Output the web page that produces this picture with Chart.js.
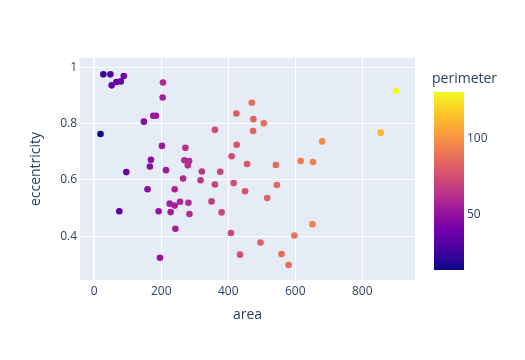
<!DOCTYPE html>
<html>
<head>
<meta charset="utf-8">
<script src="https://cdn.jsdelivr.net/npm/chart.js@4/dist/chart.umd.min.js"></script>
<style>
  html, body { margin: 0; padding: 0; background: #fff; }
  canvas { display: block; }
</style>
</head>
<body>
<canvas id="c" width="525" height="360"></canvas>
<script>
// ---- data ----
const area = [27, 48, 88, 52, 66, 79, 205, 204, 148, 176, 184, 18.5, 360, 424, 470, 475, 506, 474, 425, 410, 456, 542, 616, 653, 680, 855, 901, 202, 272, 169, 166, 269, 283, 279, 95.5, 214, 321, 376, 265, 317, 360, 416, 450, 545, 516, 159, 240, 74.6, 192, 225, 240, 256, 281, 228, 284, 350, 380, 242, 408, 196, 496, 435, 559, 580, 597, 651];
const eccentricity = [0.975, 0.975, 0.969, 0.936, 0.948, 0.950, 0.946, 0.893, 0.807, 0.828, 0.828, 0.763, 0.778, 0.836, 0.874, 0.816, 0.801, 0.774, 0.725, 0.684, 0.657, 0.653, 0.667, 0.664, 0.737, 0.768, 0.917, 0.721, 0.714, 0.672, 0.648, 0.670, 0.667, 0.652, 0.628, 0.635, 0.630, 0.629, 0.605, 0.599, 0.584, 0.589, 0.560, 0.582, 0.536, 0.567, 0.567, 0.489, 0.489, 0.516, 0.509, 0.523, 0.519, 0.486, 0.479, 0.524, 0.485, 0.427, 0.412, 0.324, 0.378, 0.335, 0.337, 0.298, 0.403, 0.443];
const perimeter = [24, 30, 42, 34, 36, 38, 60, 57, 47, 52, 53, 13.4, 74, 81, 88, 85, 87, 83, 77, 75, 79, 86, 92, 94, 98, 111, 130.7, 53, 62, 48, 47, 61, 62, 62, 36, 54, 66, 71, 60, 65, 69, 75, 77, 85, 83, 46, 57, 31, 50, 55, 56, 58, 61, 55, 61, 68, 71, 56, 73, 51, 81, 76, 86, 87, 89, 93];
const xTicks = [0, 200, 400, 600, 800];
const yTicks = [0.4, 0.6, 0.8, 1];
const colorbarTicks = [50, 100];
const xTitle = "area";
const yTitle = "eccentricity";
const colorTitle = "perimeter";

// ---- styling ----
const FONT = "'Open Sans', 'DejaVu Sans', Arial, sans-serif";
const TEXT = "#2a3f5f";
const PLASMA = ['#0d0887', '#46039f', '#7201a8', '#9c179e', '#bd3786', '#d8576b', '#ed7953', '#fb9f3a', '#fdca26', '#f0f921'];
const cmin = Math.min(...perimeter), cmax = Math.max(...perimeter);

function hexToRgb(h) { return [parseInt(h.slice(1,3),16), parseInt(h.slice(3,5),16), parseInt(h.slice(5,7),16)]; }
function plasma(t) {
  t = Math.max(0, Math.min(1, t));
  const n = PLASMA.length - 1;
  const i = Math.min(Math.floor(t * n), n - 1);
  const f = t * n - i;
  const a = hexToRgb(PLASMA[i]), b = hexToRgb(PLASMA[i+1]);
  const c = a.map((v, k) => Math.round(v + (b[k] - v) * f));
  return `rgb(${c[0]},${c[1]},${c[2]})`;
}
const pointColors = perimeter.map(p => plasma((p - cmin) / (cmax - cmin)));

const points = area.map((a, i) => ({ x: a, y: eccentricity[i] }));

const bgPlugin = {
  id: 'bg',
  beforeDraw(chart) {
    const { ctx, chartArea: ca } = chart;
    ctx.save();
    ctx.fillStyle = '#ffffff';
    ctx.fillRect(0, 0, chart.width, chart.height);
    ctx.fillStyle = '#E5ECF6';
    ctx.fillRect(ca.left, ca.top, ca.right - ca.left, ca.bottom - ca.top);
    ctx.restore();
  }
};

const colorbarPlugin = {
  id: 'colorbar',
  afterDraw(chart) {
    const ctx = chart.ctx;
    const x0 = 434, w = 30, top = 92, bottom = 270;
    ctx.save();
    const g = ctx.createLinearGradient(0, bottom, 0, top);
    PLASMA.forEach((c, i) => g.addColorStop(i / (PLASMA.length - 1), c));
    ctx.fillStyle = g;
    ctx.fillRect(x0, top, w, bottom - top);
    ctx.fillStyle = TEXT;
    ctx.font = `12px ${FONT}`;
    ctx.textAlign = 'left';
    ctx.textBaseline = 'middle';
    colorbarTicks.forEach(v => {
      const y = bottom - (v - cmin) / (cmax - cmin) * (bottom - top);
      ctx.fillText(String(v), x0 + w + 3, y);
    });
    ctx.font = `14px ${FONT}`;
    ctx.textBaseline = 'middle';
    ctx.fillText(colorTitle, 432, 79);
    ctx.restore();
  }
};

new Chart(document.getElementById('c'), {
  type: 'scatter',
  data: {
    datasets: [{
      data: points,
      backgroundColor: pointColors,
      borderWidth: 0,
      pointRadius: 3.3,
      pointHoverRadius: 3.3
    }]
  },
  options: {
    responsive: false,
    animation: false,
    devicePixelRatio: 1,
    layout: { padding: { left: 0, right: 110, top: 58, bottom: 0 } },
    plugins: { legend: { display: false }, tooltip: { enabled: false } },
    scales: {
      x: {
        type: 'linear',
        min: -42.7, max: 957.3,
        afterBuildTicks(s) { s.ticks = xTicks.map(v => ({ value: v })); },
        afterFit(s) { s.height = 80; },
        grid: {
          color: '#ffffff',
          lineWidth: ctx => (ctx.tick && ctx.tick.value === 0 ? 2 : 1),
          drawTicks: false
        },
        border: { display: false },
        ticks: { color: TEXT, font: { family: FONT, size: 12 }, padding: 4, maxRotation: 0, autoSkip: false },
        title: { display: true, text: xTitle, color: TEXT, font: { family: FONT, size: 14 }, padding: { top: 0, bottom: 36.6 } }
      },
      y: {
        type: 'linear',
        min: 0.245, max: 1.033,
        afterBuildTicks(s) { s.ticks = yTicks.map(v => ({ value: v })); },
        afterFit(s) { s.width = 80; },
        grid: { color: '#ffffff', lineWidth: 1, drawTicks: false },
        border: { display: false },
        ticks: { color: TEXT, font: { family: FONT, size: 12 }, padding: 3, autoSkip: false, callback: v => String(v) },
        title: { display: true, text: yTitle, color: TEXT, font: { family: FONT, size: 14 }, padding: { top: 27.6, bottom: 0 } }
      }
    }
  },
  plugins: [bgPlugin, colorbarPlugin]
});
</script>
</body>
</html>
